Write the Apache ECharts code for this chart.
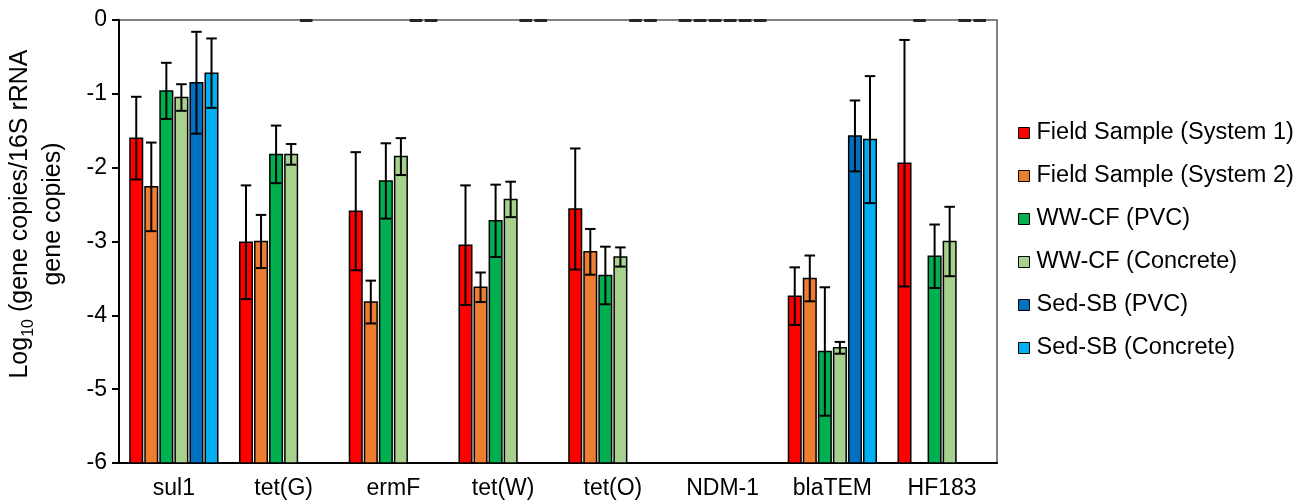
<!DOCTYPE html>
<html>
<head>
<meta charset="utf-8">
<script src="https://cdn.jsdelivr.net/npm/echarts@6/dist/echarts.min.js"></script>
<style>
  html, body { margin: 0; padding: 0; background: #fff; }
  #chart { width: 1302px; height: 504px; }
</style>
</head>
<body>
<div id="chart"></div>
<script>
// gene targets
var categories = ['sul1', 'tet(G)', 'ermF', 'tet(W)', 'tet(O)', 'NDM-1', 'blaTEM', 'HF183'];
var yTicks = [-6, 0, 1]; // min, max, step

// log10 ratios; 0 = below detection (drawn as a stub at the top), null = no data
var fs1 = [-1.60, -3.01, -2.59, -3.05, -2.56, 0, -3.74, -1.94];
var fs1Err = [0.56, 0.77, 0.80, 0.81, 0.82, 0, 0.39, 1.67];
var fs2 = [-2.26, -3.00, -3.82, -3.62, -3.14, 0, -3.50, 0];
var fs2Err = [0.60, 0.36, 0.29, 0.20, 0.31, 0, 0.31, 0];
var wwPvc = [-0.96, -1.82, -2.18, -2.72, -3.46, 0, -4.49, -3.20];
var wwPvcErr = [0.38, 0.39, 0.51, 0.49, 0.39, 0, 0.87, 0.43];
var wwCon = [-1.05, -1.82, -1.85, -2.43, -3.21, 0, -4.44, -3.00];
var wwConErr = [0.18, 0.14, 0.25, 0.24, 0.13, 0, 0.08, 0.47];
var sedPvc = [-0.85, 0, 0, 0, 0, 0, -1.57, 0];
var sedPvcErr = [0.69, 0, 0, 0, 0, 0, 0.48, 0];
var sedCon = [-0.72, null, 0, 0, 0, 0, -1.62, 0];
var sedConErr = [0.47, null, 0, 0, 0, 0, 0.86, 0];

var names = ['Field Sample (System 1)', 'Field Sample (System 2)', 'WW-CF (PVC)',
  'WW-CF (Concrete)', 'Sed-SB (PVC)', 'Sed-SB (Concrete)'];
var colors = ['#FF0000', '#ED7D31', '#00B050', '#A9D18E', '#0070C0', '#00B0F0'];
var values = [fs1, fs2, wwPvc, wwCon, sedPvc, sedCon];
var errors = [fs1Err, fs2Err, wwPvcErr, wwConErr, sedPvcErr, sedConErr];

var FONT = '"Liberation Sans", Arial, sans-serif';
var nSeries = names.length;

function makeRender(si) {
  return function (params, api) {
    var cat = api.value(0), val = api.value(1), err = api.value(2);
    var band = api.size([1, 0])[0];
    var usable = band * 0.8;
    var barW = usable / (nSeries + (nSeries - 1) * 0.2);
    var cx = api.coord([cat, 0])[0];
    var x = cx - usable / 2 + si * barW * 1.2;
    var yTop = api.coord([cat, val])[1];
    var yBase = api.coord([cat, yTicks[0]])[1];
    if (val === 0) {
      return {
        type: 'rect',
        shape: { x: x, y: yTop - 1, width: barW, height: 3 },
        style: { fill: '#262626' }
      };
    }
    var mid = x + barW / 2, cap = barW * 0.42;
    var yHi = api.coord([cat, val + err])[1];
    var yLo = api.coord([cat, val - err])[1];
    var ln = { stroke: '#000', lineWidth: 2 };
    return {
      type: 'group',
      children: [
        { type: 'rect', shape: { x: x, y: yTop, width: barW, height: yBase - yTop },
          style: { fill: api.visual('color'), stroke: '#000', lineWidth: 1.5 } },
        { type: 'line', shape: { x1: mid, y1: yHi, x2: mid, y2: yLo }, style: ln },
        { type: 'line', shape: { x1: mid - cap, y1: yHi, x2: mid + cap, y2: yHi }, style: ln },
        { type: 'line', shape: { x1: mid - cap, y1: yLo, x2: mid + cap, y2: yLo }, style: ln }
      ]
    };
  };
}

var series = [];
for (var s = 0; s < nSeries; s++) {
  var data = [];
  for (var c = 0; c < categories.length; c++) {
    if (values[s][c] === null) continue;
    data.push([c, values[s][c], errors[s][c]]);
  }
  series.push({
    name: names[s],
    type: 'custom',
    renderItem: makeRender(s),
    itemStyle: { color: colors[s], borderColor: '#000', borderWidth: 1 },
    encode: { x: 0, y: 1 },
    clip: false,
    data: data
  });
}

var myChart = echarts.init(document.getElementById('chart'));
myChart.setOption({
  animation: false,
  textStyle: { fontFamily: FONT },
  grid: {
    left: 119, right: 305, top: 20, bottom: 41,
    show: true, borderColor: '#595959', borderWidth: 1.5
  },
  legend: {
    orient: 'vertical',
    left: 1013, top: 116,
    itemWidth: 11, itemHeight: 11, itemGap: 19,
    icon: 'rect',
    itemStyle: { borderColor: '#000', borderWidth: 1 },
    textStyle: { fontFamily: FONT, fontSize: 23.5, color: '#000', padding: [0, 0, 0, 2] },
    data: names
  },
  xAxis: {
    type: 'category',
    data: categories,
    axisLine: { onZero: false, lineStyle: { color: '#000', width: 2 } },
    axisTick: { show: false },
    axisLabel: { fontFamily: FONT, fontSize: 23, color: '#000', margin: 14 }
  },
  yAxis: {
    type: 'value',
    min: yTicks[0], max: yTicks[1], interval: yTicks[2],
    axisLine: { show: true, lineStyle: { color: '#000', width: 2 } },
    axisTick: { show: true, length: 7, lineStyle: { color: '#000', width: 2 } },
    axisLabel: { fontFamily: FONT, fontSize: 23, color: '#000', margin: 12 },
    splitLine: { show: false }
  },
  graphic: [{
    type: 'text',
    x: 37, y: 214,
    rotation: Math.PI / 2,
    style: {
      text: 'Log{sub|10} (gene copies/16S rRNA\ngene copies)',
      font: '25px ' + FONT,
      fill: '#000',
      align: 'center',
      verticalAlign: 'middle',
      lineHeight: 33,
      rich: {
        sub: { fontSize: 16, fontFamily: FONT, fill: '#000', verticalAlign: 'bottom', lineHeight: 24 }
      }
    }
  }],
  series: series
});
</script>
</body>
</html>
